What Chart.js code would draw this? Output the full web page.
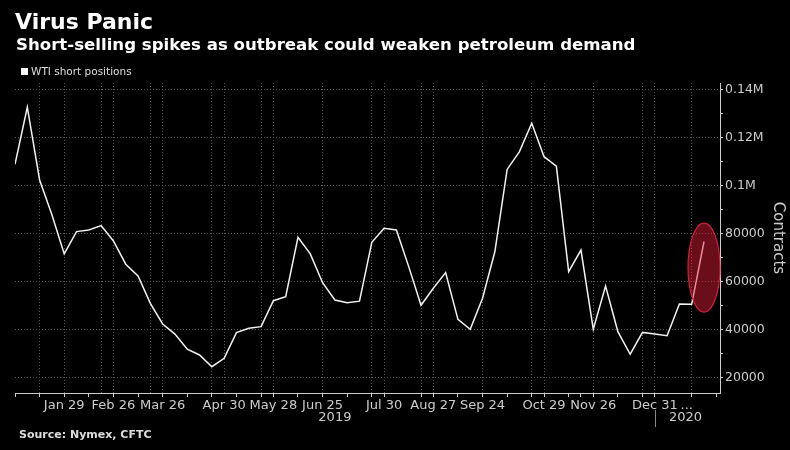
<!DOCTYPE html>
<html>
<head>
<meta charset="utf-8">
<script src="https://cdn.jsdelivr.net/npm/chart.js@4.4.1/dist/chart.umd.min.js"></script>
<style>
  html, body { margin: 0; padding: 0; background: #000; }
  #wrap { position: relative; width: 790px; height: 450px; background: #000; font-family: "DejaVu Sans", sans-serif; color: #fff; }
  #chart { position: absolute; left: 0; top: 0; }
  .title { position: absolute; left: 15px; top: 11px; font-size: 22px; line-height: 22px; font-weight: bold; }
  .subtitle { position: absolute; left: 16px; top: 36px; font-size: 16.6px; line-height: 17px; font-weight: bold; }
  .legend { position: absolute; left: 21px; top: 65px; font-size: 10.5px; line-height: 12px; color: #ddd; }
  .legend span { display: inline-block; width: 7px; height: 7px; background: #fff; margin-right: 3px; vertical-align: 0px; }
  .source { position: absolute; left: 19px; top: 429px; font-size: 11px; line-height: 12px; font-weight: bold; color: #ddd; }
</style>
</head>
<body>
<div id="wrap">
  <canvas id="chart" width="790" height="450"></canvas>
  <div class="title">Virus Panic</div>
  <div class="subtitle">Short-selling spikes as outbreak could weaken petroleum demand</div>
  <div class="legend"><span></span>WTI short positions</div>
  <div class="source">Source: Nymex, CFTC</div>
</div>
<script>
// weekly CFTC report dates, Jan 1 2019 .. Jan 28 2020
let dates = ['Jan 1','Jan 8','Jan 15','Jan 22','Jan 29','Feb 5','Feb 12','Feb 19','Feb 26',
  'Mar 5','Mar 12','Mar 19','Mar 26','Apr 2','Apr 9','Apr 16','Apr 23','Apr 30',
  'May 7','May 14','May 21','May 28','Jun 4','Jun 11','Jun 18','Jun 25',
  'Jul 2','Jul 9','Jul 16','Jul 23','Jul 30','Aug 6','Aug 13','Aug 20','Aug 27',
  'Sep 3','Sep 10','Sep 17','Sep 24','Oct 1','Oct 8','Oct 15','Oct 22','Oct 29',
  'Nov 5','Nov 12','Nov 19','Nov 26','Dec 3','Dec 10','Dec 17','Dec 24','Dec 31',
  'Jan 7','Jan 14','Jan 21','Jan 28'];
let shorts = [109000,132800,102500,88000,71700,81000,81700,83500,77100,
  67400,62500,51100,42500,38300,32000,29600,24700,28200,
  38900,40700,41400,52200,53900,78600,71700,59700,
  52500,51400,52000,76500,82400,81700,66400,50300,57400,
  63900,44400,40300,53200,72600,106900,114300,126100,112200,
  108300,64300,73300,40300,58300,39300,29900,39000,38300,
  37600,50800,50700,76800];

let labelIdx = [4,8,12,17,21,25,30,34,38,43,47,52,54.6];
let labelText = ['Jan 29','Feb 26','Mar 26','Apr 30','May 28','Jun 25','Jul 30','Aug 27','Sep 24','Oct 29','Nov 26','Dec 31','...'];
let gridIdx = [2,4,7,8,11,12,16,17,20,21,25,29,30,33,34,38,42,43,47,51,52,55];
let tickIdx = [0,2,4,6,8,10,12,14,16,18,20,21,23,25,27,29,30,33,34,36,38,40,42,43,45,46,47,49,51,52,55,57];
let yMajor = [20000,40000,60000,80000,100000,120000,140000];
let yMinor = [30000,50000,70000,90000,110000,130000];
let yearText = ['2019','2020'];
let yearPos = [26,54.5];
let yearBreak = 52;
// circled last reading
let markIdx = 56, markVal = 66000;

let xTicks = [...new Set([...tickIdx, ...gridIdx, ...labelIdx])].sort((a,b)=>a-b);

Chart.defaults.font.family = "'DejaVu Sans', sans-serif";

const extras = {
  id: 'extras',
  afterDatasetsDraw(chart) {
    const c = chart.ctx, x = chart.scales.x, y = chart.scales.y;
    c.save();
    c.beginPath();
    c.ellipse(x.getPixelForValue(markIdx), y.getPixelForValue(markVal), 16, 44.5, 0, 0, Math.PI*2);
    c.fillStyle = 'rgba(225,30,60,0.47)';
    c.fill();
    c.strokeStyle = '#d2213c';
    c.lineWidth = 1.2;
    c.stroke();
    c.restore();
  },
  afterDraw(chart) {
    const c = chart.ctx, x = chart.scales.x;
    c.save();
    c.fillStyle = '#ccc';
    c.font = "13px 'DejaVu Sans'";
    c.textAlign = 'center';
    c.textBaseline = 'middle';
    yearText.forEach((t, k) => c.fillText(t, x.getPixelForValue(yearPos[k]), 418));
    const bx = Math.round(x.getPixelForValue(yearBreak)) + 0.5;
    c.strokeStyle = '#888';
    c.beginPath();
    c.moveTo(bx, 410);
    c.lineTo(bx, 427);
    c.stroke();
    c.restore();
  }
};

new Chart(document.getElementById('chart'), {
  type: 'line',
  data: {
    datasets: [{
      label: 'WTI short positions',
      data: shorts.map((v, i) => ({x: i, y: v})),
      borderColor: '#f2f2f2',
      borderWidth: 1.5,
      pointRadius: 0,
      tension: 0
    }]
  },
  options: {
    responsive: false,
    animation: false,
    layout: { padding: { left: 15, top: 83, right: 0, bottom: 0 } },
    plugins: { legend: { display: false }, tooltip: { enabled: false } },
    scales: {
      x: {
        type: 'linear',
        min: 0,
        max: 57.3,
        afterBuildTicks: s => { s.ticks = xTicks.map(v => ({value: v})); },
        afterFit: s => { s.height = 57; },
        ticks: {
          autoSkip: false,
          maxRotation: 0,
          color: '#ccc',
          font: { size: 13 },
          padding: 1,
          callback: v => { const k = labelIdx.indexOf(v); return k < 0 ? '' : labelText[k]; }
        },
        grid: {
          color: ctx => gridIdx.includes(ctx.tick && ctx.tick.value) ? '#595959' : 'rgba(0,0,0,0)',
          tickColor: ctx => tickIdx.includes(ctx.tick && ctx.tick.value) ? '#ccc' : 'rgba(0,0,0,0)',
          tickLength: 4,
          lineWidth: 1
        },
        border: { color: '#ccc', width: 1, dash: [1, 2] }
      },
      y: {
        position: 'right',
        min: 13750,
        max: 142900,
        afterBuildTicks: s => { s.ticks = [...yMajor, ...yMinor].sort((a,b)=>a-b).map(v => ({value: v})); },
        afterFit: s => { s.width = 70; },
        ticks: {
          color: '#ccc',
          font: { size: 12.5 },
          padding: 2,
          callback: v => yMajor.includes(v) ? (v >= 100000 ? (v / 1e6) + 'M' : String(v)) : ''
        },
        grid: {
          color: ctx => yMajor.includes(ctx.tick && ctx.tick.value) ? '#595959' : 'rgba(0,0,0,0)',
          tickColor: '#ccc',
          tickLength: 3,
          lineWidth: 1
        },
        border: { color: '#ccc', width: 1, dash: [1, 2] },
        title: { display: true, text: 'Contracts', color: '#ccc', font: { size: 15 }, padding: { top: 3, bottom: 0 } }
      }
    }
  },
  plugins: [extras]
});
</script>
</body>
</html>
